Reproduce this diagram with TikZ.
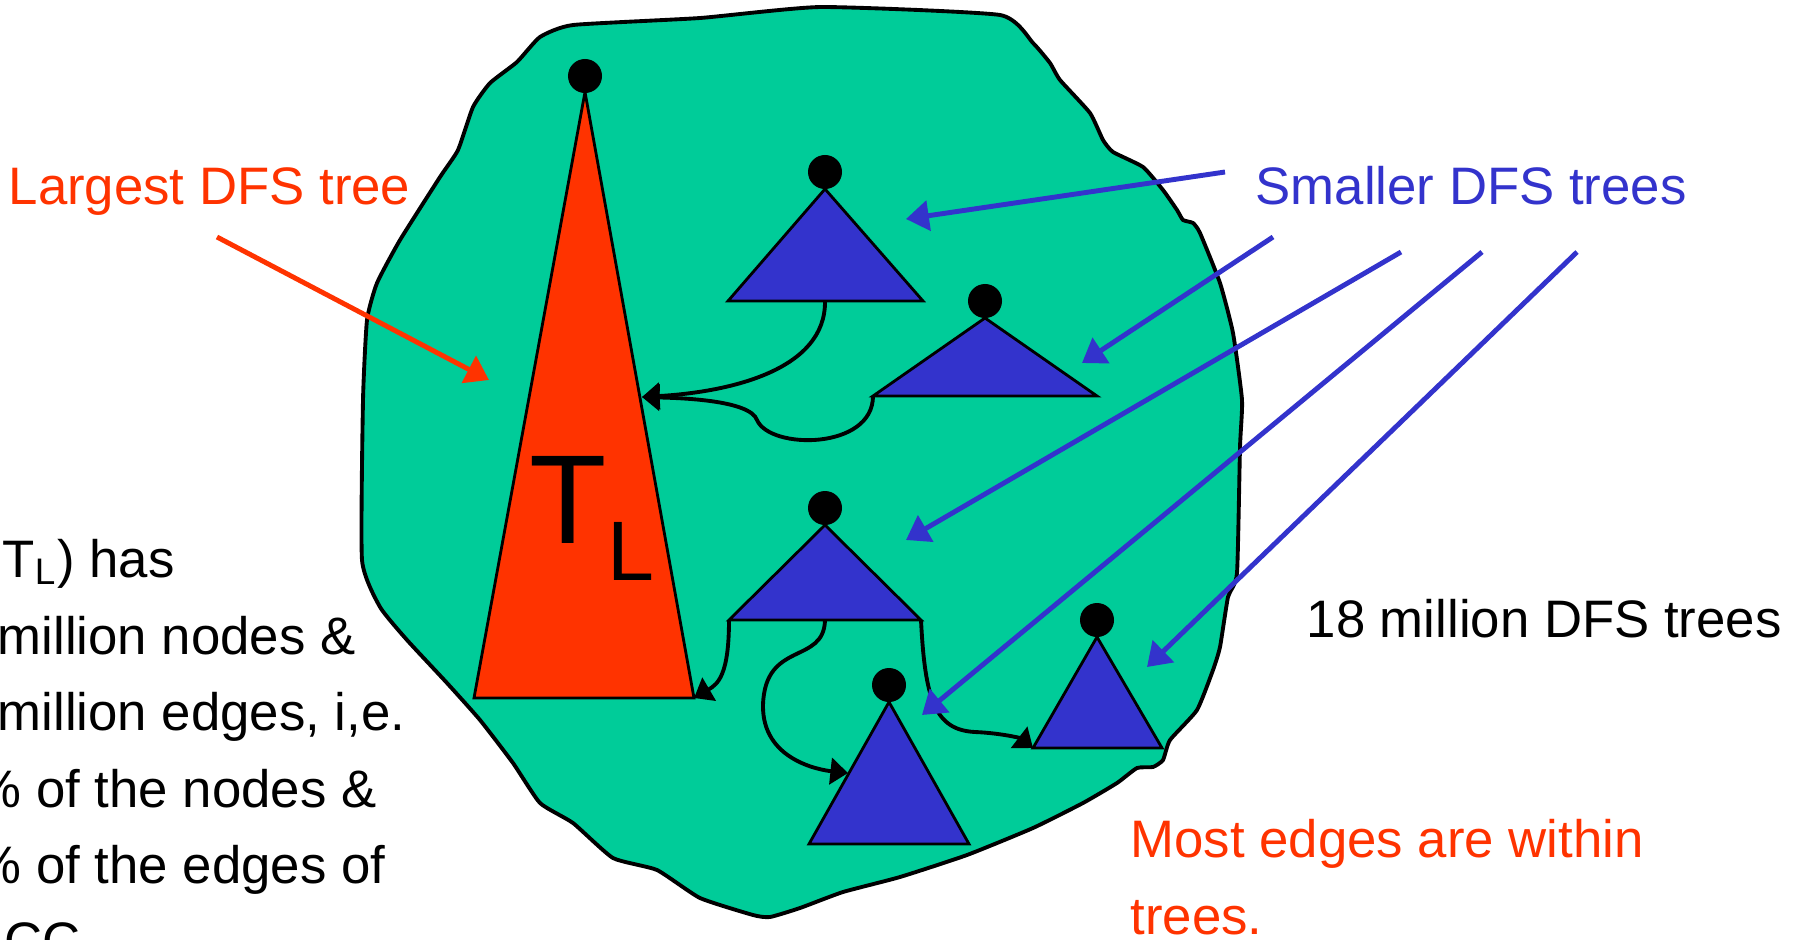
\documentclass[tikz,border=0pt]{standalone}
\usepackage{fontspec}
\setmainfont{Liberation Sans}
\usepackage{xcolor}
\definecolor{sccgreen}{RGB}{0,204,153}
\definecolor{sccblue}{RGB}{51,51,204}
\definecolor{sccred}{RGB}{255,51,0}
\usetikzlibrary{arrows.meta}
\tikzset{
  blob/.style={draw=black,line width=1.1pt,fill=sccgreen},
  bigtree/.style={draw=black,line width=0.8pt,fill=sccred},
  smalltree/.style={draw=black,line width=0.8pt,fill=sccblue},
  root/.style={circle,fill=black,inner sep=0pt,minimum size=0.34cm},
  txt/.style={anchor=base west,inner sep=0pt,font=\fontsize{15}{18}\selectfont},
  redlab/.style={txt,text=sccred},
  bluelab/.style={txt,text=sccblue},
  redarr/.style={-{Triangle[length=6.5pt,width=8.5pt]},line width=1.4pt,draw=sccred},
  bluearr/.style={-{Triangle[length=6.5pt,width=8.5pt]},line width=1.4pt,draw=sccblue},
  link/.style={-{Triangle[length=5pt,width=7.5pt]},line width=1.1pt,draw=black},
}

\begin{document}
\begin{tikzpicture}[x=0.01cm,y=-0.01cm]
  \useasboundingbox (0,0) rectangle (1794,939);
  \clip (0,0) rectangle (1794,939);

  % giant component
  \draw[blob] plot[smooth cycle,tension=0.3] coordinates {
    (458,150) (473,107) (490,83) (517,62) (540,37) (573,25) (700,18) (821,7)
    (1000,15) (1033,43) (1050,63) (1060,80) (1090,113) (1103,140) (1113,152)
    (1143,167) (1163,190) (1177,210) (1183,220) (1193,223) (1200,233) (1220,283)
    (1233,333) (1242,400) (1240,447) (1237,573) (1228,597) (1220,647) (1213,670)
    (1197,710) (1170,740) (1163,760) (1153,767) (1137,768) (1117,783) (1083,803)
    (1033,828) (967,855) (900,877) (843,892) (800,908) (770,917) (753,915)
    (700,898) (657,870) (613,858) (573,823) (540,803) (513,763) (480,720)
    (447,683) (407,640) (380,607) (362,560) (363,400) (367,320) (377,283)
    (400,240) (440,177)};

  % largest tree
  \coordinate (ra) at (585,92);
  \coordinate (rl) at (474,698);
  \coordinate (rr) at (694,698);
  \draw[bigtree] (ra) -- (rl) -- (rr) -- cycle;
  \node[root] (r0) at (585,76) {};
  \node[anchor=base west,inner sep=0pt,font=\fontsize{36}{36}\selectfont] (tlab) at (529,543)
    {T\raisebox{-10.8pt}{\fontsize{24}{24}\selectfont L}};

  % smaller trees
  \coordinate (a1) at (825,189); \coordinate (l1) at (728,301); \coordinate (r1) at (923,301);
  \coordinate (a2) at (985,318); \coordinate (l2) at (873,396); \coordinate (r2) at (1097,396);
  \coordinate (a3) at (825,525); \coordinate (l3) at (729,620); \coordinate (r3) at (921,620);
  \coordinate (a4) at (889,702); \coordinate (l4) at (809,844); \coordinate (r4) at (969,844);
  \coordinate (a5) at (1097,637); \coordinate (l5) at (1033,748); \coordinate (r5) at (1162,748);
  \foreach \i in {1,...,5}
    \draw[smalltree] (a\i) -- (l\i) -- (r\i) -- cycle;
  \node[root] (d1) at (825,172) {};
  \node[root] (d2) at (985,301) {};
  \node[root] (d3) at (825,508) {};
  \node[root] (d4) at (889,685) {};
  \node[root] (d5) at (1097,620) {};
  \coordinate (m1) at (825,301);
  \coordinate (m3) at (825,620);

  % edges between trees
  \coordinate (hit) at (642,397);
  \coordinate (hit4) at (848,773);
  \draw[link] (m1) .. controls (826,370) and (730,392) .. (hit);
  \draw[link] (l2) .. controls (873,450) and (770,450) .. (757,420)
    .. controls (750,400) and (680,398) .. (hit);
  \draw[link] (l3) .. controls (729,675) and (718,684) .. (rr);
  \draw[link] (m3) .. controls (824,665) and (765,640) .. (763,705)
    .. controls (762,760) and (820,770) .. (hit4);
  \draw[link] (r3) .. controls (925,700) and (935,730) .. (975,732)
    .. controls (1000,733) and (1020,738) .. (l5);

  % labels
  \node[redlab] (lgst) at (8,204) {Largest DFS tree};
  \node[bluelab] (smll) at (1255,204) {Smaller DFS trees};
  \node[txt] (cnt) at (1306,637) {18 million DFS trees};
  \node[redlab] (most) at (1130,857) {Most edges are within};
  \node[redlab] (most2) at (1130,934) {trees.};
  \node[txt] (st1) at (2,577) {T\textsubscript{L}) has};
  \node[txt] (st2) at (-3,654) {million nodes \&};
  \node[txt] (st3) at (-3,730) {million edges, i,e.};
  \node[txt] (st4) at (-26,807) {\% of the nodes \&};
  \node[txt] (st5) at (-26,883) {\% of the edges of};
  \node[txt] (st6) at (4,959) {CC};

  \coordinate (rs) at (217,237);
  \coordinate (rt) at (489,380);
  \draw[redarr] (rs) -- (rt);

  \coordinate (s1) at (1225,172); \coordinate (t1) at (906,219);
  \coordinate (s2) at (1273,237); \coordinate (t2) at (1082,363);
  \coordinate (s3) at (1401,252); \coordinate (t3) at (906,540);
  \coordinate (s4) at (1482,252); \coordinate (t4) at (922,715);
  \coordinate (s5) at (1577,252); \coordinate (t5) at (1147,667);
  \foreach \i in {1,...,5}
    \draw[bluearr] (s\i) -- (t\i);
\end{tikzpicture}
\end{document}
